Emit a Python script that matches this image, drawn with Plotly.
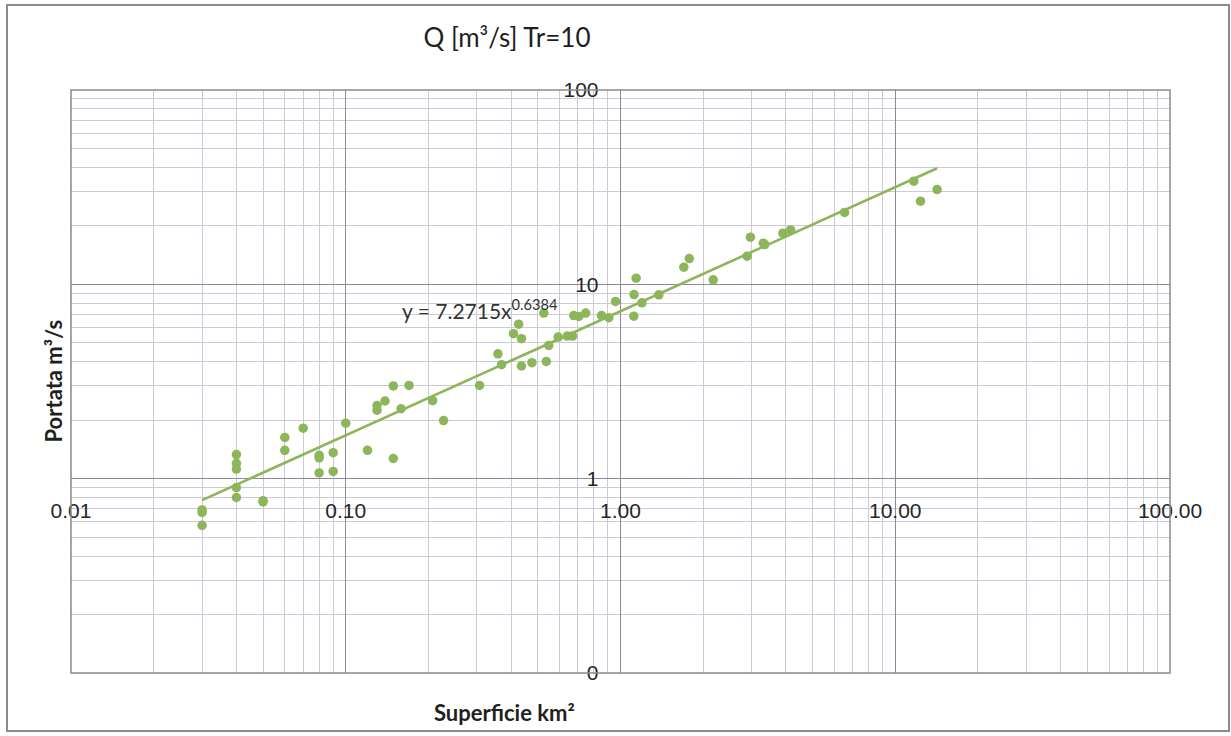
import numpy as np
import plotly.graph_objects as go

# Catchment area (km²) and 10-year return-period peak discharge (m³/s)
area_km2 = [
    0.030, 0.030, 0.030, 0.040, 0.040, 0.040, 0.040, 0.040, 0.050, 0.050,
    0.060, 0.060, 0.070, 0.080, 0.080, 0.080, 0.090, 0.090, 0.100, 0.120,
    0.130, 0.130, 0.139, 0.149, 0.149, 0.159, 0.170, 0.207, 0.227, 0.307,
    0.358, 0.369, 0.408, 0.426, 0.436, 0.436, 0.476, 0.526, 0.537, 0.548,
    0.593, 0.640, 0.669, 0.676, 0.705, 0.747, 0.853, 0.907, 0.959, 1.118,
    1.120, 1.140, 1.197, 1.379, 1.700, 1.780, 2.175, 2.890, 2.970, 3.310,
    3.350, 3.900, 4.160, 6.540, 11.68, 12.36, 14.20,
]
discharge_m3s = [
    0.69, 0.67, 0.575, 1.33, 1.20, 1.12, 0.90, 0.80, 0.77, 0.76,
    1.63, 1.40, 1.82, 1.32, 1.28, 1.07, 1.36, 1.09, 1.93, 1.40,
    2.38, 2.25, 2.51, 3.00, 1.27, 2.29, 3.02, 2.52, 1.99, 3.02,
    4.39, 3.86, 5.57, 6.24, 5.25, 3.80, 3.95, 7.11, 4.01, 4.85,
    5.35, 5.42, 5.42, 6.91, 6.83, 7.11, 6.91, 6.73, 8.16, 6.86,
    8.86, 10.76, 8.03, 8.83, 12.26, 13.57, 10.55, 13.96, 17.48, 16.28,
    16.02, 18.34, 19.06, 23.45, 33.94, 26.78, 30.73,
]

# Power-law regression Q = a * A^b
coef_a = 7.2715
coef_b = 0.6384

x_ticks = [0.01, 0.1, 1, 10, 100]
x_tick_text = ["0.01", "0.10", "1.00", "10.00", "100.00"]
y_ticks = [0.1, 1, 10, 100]
y_tick_text = ["0", "1", "10", "100"]

GREEN = "#8db55a"
MAJOR_GRID = "#8a8a98"
MINOR_GRID = "#cacad8"
NUM_FONT = "Liberation Sans, Arial, sans-serif"
TXT_FONT = "Lato, Carlito, Calibri, sans-serif"

fit_x = np.array([min(area_km2), max(area_km2)])
fit_y = coef_a * fit_x ** coef_b


def minor_vals(lo_exp, hi_exp):
    vals = []
    for e in range(lo_exp, hi_exp):
        for m in range(2, 10):
            vals.append(m * 10.0 ** e)
    return vals


fig = go.Figure()

fig.add_trace(go.Scatter(
    x=fit_x, y=fit_y, mode="lines",
    line=dict(color=GREEN, width=2.6),
    hoverinfo="skip", showlegend=False,
))
fig.add_trace(go.Scatter(
    x=area_km2, y=discharge_m3s, mode="markers",
    marker=dict(color=GREEN, size=9.5, line=dict(width=0)),
    showlegend=False,
))

fig.update_xaxes(
    type="log", range=[-2, 2],
    tickmode="array", tickvals=x_ticks, ticktext=x_tick_text,
    anchor="free", position=1 / 3,
    ticks="", showline=False, zeroline=False,
    showgrid=True, gridcolor=MAJOR_GRID, gridwidth=1,
    minor=dict(tickmode="array", tickvals=minor_vals(-2, 2), showgrid=True,
               gridcolor=MINOR_GRID, gridwidth=1, ticks=""),
    tickfont=dict(family=NUM_FONT, size=21, color="#262626"),
    ticklabelstandoff=17,
    automargin=False,
)
fig.update_yaxes(
    type="log", range=[-1, 2],
    tickmode="array", tickvals=y_ticks, ticktext=y_tick_text,
    anchor="free", position=0.5,
    ticks="", showline=False, zeroline=False,
    showgrid=True, gridcolor=MAJOR_GRID, gridwidth=1,
    minor=dict(tickmode="array", tickvals=minor_vals(-1, 2), showgrid=True,
               gridcolor=MINOR_GRID, gridwidth=1, ticks=""),
    tickfont=dict(family=NUM_FONT, size=21, color="#262626"),
    ticklabelstandoff=22,
    automargin=False,
)

W, H = 1231, 736
ML, MR, MT, MB = 71, 61, 90, 63
PW, PH = W - ML - MR, H - MT - MB


def px_x(px):
    return (px - ML) / PW


def px_y(py):
    return (H - MB - py) / PH


fig.update_layout(
    width=W, height=H,
    margin=dict(l=ML, r=MR, t=MT, b=MB),
    paper_bgcolor="white", plot_bgcolor="white",
    title=dict(
        text="Q [m³/s] Tr=10",
        x=507 / W, xref="container", xanchor="center",
        y=1 - 38 / H, yref="container", yanchor="middle",
        font=dict(family=TXT_FONT, size=26, color="#1f1f1f"),
    ),
    annotations=[
        dict(text="<b>Portata m³/s</b>", textangle=-90,
             x=px_x(53), y=0.5, xref="paper", yref="paper",
             xanchor="center", yanchor="middle", showarrow=False,
             font=dict(family=TXT_FONT, size=22, color="#1f1f1f")),
        dict(text="<b>Superficie km²</b>",
             x=px_x(504), y=px_y(712), xref="paper", yref="paper",
             xanchor="center", yanchor="middle", showarrow=False,
             font=dict(family=TXT_FONT, size=22, color="#1f1f1f")),
        dict(text=f"y = {coef_a}x<sup>{coef_b}</sup>",
             x=px_x(400), y=px_y(309), xref="paper", yref="paper",
             xanchor="left", yanchor="middle", showarrow=False,
             font=dict(family=TXT_FONT, size=21, color="#333333")),
    ],
    shapes=[
        # plot-area border
        dict(type="rect", xref="paper", yref="paper", x0=0, x1=1, y0=0, y1=1,
             line=dict(color="#8a8a8a", width=1.5), layer="above"),
        # outer chart frame
        dict(type="rect", xref="paper", yref="paper",
             x0=px_x(7), x1=px_x(1229), y0=px_y(731), y1=px_y(5),
             line=dict(color="#8c8c8c", width=2), layer="below"),
    ],
)

fig.write_html("out.html")
